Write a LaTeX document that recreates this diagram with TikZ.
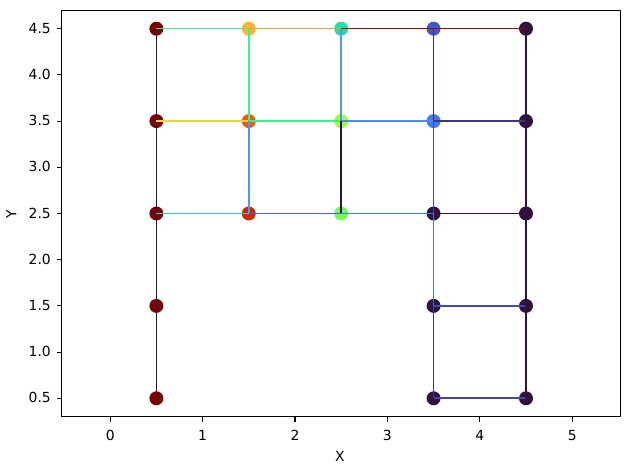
\documentclass[tikz,border=0pt]{standalone}
\usepackage{fontspec}
\setmainfont{DejaVu Sans}
\definecolor{cpur}{HTML}{30123B}
\definecolor{cred}{HTML}{7A0403}
\definecolor{egreen}{HTML}{3CF28A}
\definecolor{eorange}{HTML}{FE9A2E}
\definecolor{edred}{HTML}{9B0C05}
\definecolor{eyellow}{HTML}{ECD43B}
\definecolor{elblue}{HTML}{4A9AF5}
\definecolor{eblueA}{HTML}{4A8EF2}
\definecolor{eindA}{HTML}{3D368C}
\definecolor{ecyan}{HTML}{27D9CC}
\definecolor{eblueB}{HTML}{4664D9}
\definecolor{eblueC}{HTML}{4778EE}
\definecolor{eindB}{HTML}{4247C4}
\definecolor{eindC}{HTML}{4042B8}
\definecolor{eindD}{HTML}{3B2D7C}
\definecolor{eindE}{HTML}{4144B4}
\definecolor{eblueD}{HTML}{4A6FE6}
\definecolor{eindF}{HTML}{3F3890}
\definecolor{nyor}{HTML}{F8B536}
\definecolor{norange}{HTML}{EF5A11}
\definecolor{nredor}{HTML}{CB2A04}
\definecolor{nteal}{HTML}{22DFAA}
\definecolor{nlime}{HTML}{A2FC3C}
\definecolor{ngreen}{HTML}{78F95A}
\definecolor{nblueA}{HTML}{4557C7}
\definecolor{nblueB}{HTML}{4678EE}
\tikzset{
  dot/.style={circle, draw=none, minimum size=14pt, inner sep=0pt},
  edge/.style={line width=1.6pt},
  frame/.style={line width=1.1pt},
  tickmark/.style={line width=1.1pt},
  ticklab/.style={font=\fontsize{13.9}{16}\selectfont, inner sep=0pt},
}
\begin{document}
\begin{tikzpicture}[x=1pt,y=1pt]
\useasboundingbox (0,0) rectangle (630,470);
\begin{scope}[shift={(110.2,25.5)}, x=92.4pt, y=92.4pt]
% nodes
\node[dot, fill=cred] (n00) at (0.5,0.5) {};
\node[dot, fill=cred] (n01) at (0.5,1.5) {};
\node[dot, fill=cred] (n02) at (0.5,2.5) {};
\node[dot, fill=cred] (n03) at (0.5,3.5) {};
\node[dot, fill=cred] (n04) at (0.5,4.5) {};
\node[dot, fill=nredor] (n12) at (1.5,2.5) {};
\node[dot, fill=norange] (n13) at (1.5,3.5) {};
\node[dot, fill=nyor] (n14) at (1.5,4.5) {};
\node[dot, fill=ngreen] (n22) at (2.5,2.5) {};
\node[dot, fill=nlime] (n23) at (2.5,3.5) {};
\node[dot, fill=nteal] (n24) at (2.5,4.5) {};
\node[dot, fill=cpur] (n30) at (3.5,0.5) {};
\node[dot, fill=cpur] (n31) at (3.5,1.5) {};
\node[dot, fill=cpur] (n32) at (3.5,2.5) {};
\node[dot, fill=nblueB] (n33) at (3.5,3.5) {};
\node[dot, fill=nblueA] (n34) at (3.5,4.5) {};
\node[dot, fill=cpur] (n40) at (4.5,0.5) {};
\node[dot, fill=cpur] (n41) at (4.5,1.5) {};
\node[dot, fill=cpur] (n42) at (4.5,2.5) {};
\node[dot, fill=cpur] (n43) at (4.5,3.5) {};
\node[dot, fill=cpur] (n44) at (4.5,4.5) {};
% edges
\draw[edge, cpur] (n00.center) -- (n01.center);
\draw[edge, cpur] (n01.center) -- (n02.center);
\draw[edge, cpur] (n02.center) -- (n03.center);
\draw[edge, cpur] (n03.center) -- (n04.center);
\draw[edge, egreen] (n04.center) -- (n14.center);
\draw[edge, eorange] (n14.center) -- (n24.center);
\draw[edge, edred] (n24.center) -- (n34.center);
\draw[edge, edred] (n34.center) -- (n44.center);
\draw[edge, eyellow] (n03.center) -- (n13.center);
\draw[edge, egreen] (n13.center) -- (n23.center);
\draw[edge, eblueA] (n23.center) -- (n33.center);
\draw[edge, eindA] (n33.center) -- (n43.center);
\draw[edge, ecyan] (n02.center) -- (n12.center);
\draw[edge, eblueB] (n12.center) -- (n22.center);
\draw[edge, eblueC] (n22.center) -- (n32.center);
\draw[edge, cpur] (n32.center) -- (n42.center);
\draw[edge, eindB] (n31.center) -- (n41.center);
\draw[edge, eindC] (n30.center) -- (n40.center);
\draw[edge, egreen] (n14.center) -- (n13.center);
\draw[edge, elblue] (n13.center) -- (n12.center);
\draw[edge, elblue] (n24.center) -- (n23.center);
\draw[edge, cpur] (n23.center) -- (n22.center);
\draw[edge, eindD] (n34.center) -- (n33.center);
\draw[edge, eindE] (n33.center) -- (n32.center);
\draw[edge, eblueD] (n32.center) -- (n31.center);
\draw[edge, eindF] (n31.center) -- (n30.center);
\draw[edge, cpur] (n40.center) -- (n41.center);
\draw[edge, cpur] (n41.center) -- (n42.center);
\draw[edge, cpur] (n42.center) -- (n43.center);
\draw[edge, cpur] (n43.center) -- (n44.center);
% frame
\coordinate (bl) at (-0.5238,0.301);
\coordinate (tr) at (5.5238,4.697);
\draw[frame] (bl) rectangle (tr);
% x ticks
\foreach \v in {0,1,2,3,4,5}{
  \draw[tickmark] (\v,0.301) -- ++(0,-4.9pt);
}
\end{scope}
% x tick labels (pixel coordinates)
\foreach \v/\px in {0/110.2,1/202.6,2/295.0,3/387.4,4/479.8,5/572.2}{
  \node[ticklab, anchor=base] (xl\v) at (\px,29.2) {\v};
}
% y ticks and labels
\foreach \v in {0.5,1.0,1.5,2.0,2.5,3.0,3.5,4.0,4.5}{
  \draw[tickmark] (61.8,{25.5+92.4*\v}) -- (56.9,{25.5+92.4*\v});
  \node[ticklab, anchor=base east] (yl\v) at (51,{25.5+92.4*\v-4.6}) {\v};
}
\node[ticklab, anchor=base] (xlabel) at (340,8) {X};
\node[ticklab, anchor=base, rotate=90] (ylabel) at (16.5,256) {Y};
\end{tikzpicture}
\end{document}
